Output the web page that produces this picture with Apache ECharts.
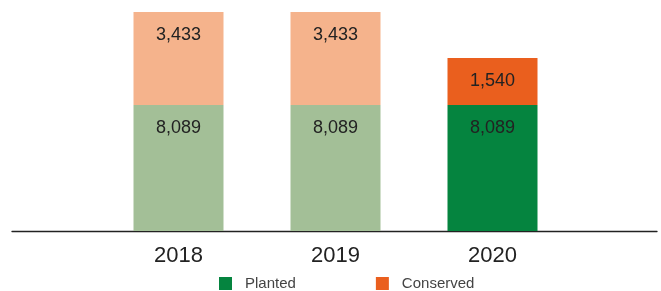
<!DOCTYPE html>
<html>
<head>
	<meta charset="utf-8">
	<title>Planted and Conserved</title>
	<script src="https://cdn.jsdelivr.net/npm/echarts@6/dist/echarts.min.js"></script>
	<style>
		body { margin: 0; background: #fff; }
	</style>
</head>
<body>
	<div id="main" style="width: 661px;height:291px;"></div>
	<script type="text/javascript">
	var years = ['2018', '2019', '2020'];

	// values printed on the bars
	var planted = [8089, 8089, 8089];
	var conserved = [3433, 3433, 1540];

	// the source does not draw its segments to scale,
	// so these are the heights
	var plantedHeight = [8089, 8089, 8089];
	var conservedHeight = [5970, 5970, 3020];

	var plantedColor = '#05843f', plantedFaded = '#a3bf97';
	var conservedColor = '#ea5f1e', conservedFaded = '#f5b38c';

	function items(heights, labels, full, faded) {
		return heights.map(function (h, i) {
			return {
				value: h,
				label: { formatter: labels[i].toLocaleString('en-US') },
				itemStyle: { color: i === heights.length - 1 ? full : faded }
			};
		});
	}

	var myChart = echarts.init(document.getElementById('main'));

	var barLabel = {
		show: true,
		position: 'insideTop',
		distance: 14,
		color: '#222',
		fontSize: 18,
		fontFamily: 'Liberation Sans'
	};

	var option = {
		animation: false,
		textStyle: { fontFamily: 'Liberation Sans' },
		legend: {
			top: 271,
			left: 214,
			padding: 5,
			icon: 'rect',
			itemWidth: 13,
			itemHeight: 13,
			itemGap: 80,
			textStyle: { color: '#444', fontSize: 15, padding: [0, 0, 0, 8] },
			data: ['Planted', 'Conserved']
		},
		grid: [
			{ left: 100, right: 90, top: 12, bottom: 60 },
			{ left: 12, right: 4, top: 12, bottom: 60 }
		],
		xAxis: [{
			type: 'category',
			gridIndex: 0,
			data: years,
			axisLine: { show: false },
			axisTick: { show: false },
			axisLabel: { color: '#222', fontSize: 22, margin: 14 }
		}, {
			type: 'category',
			gridIndex: 1,
			data: [''],
			axisLine: { show: true, lineStyle: { color: '#222', width: 1.3 } },
			axisTick: { show: false },
			axisLabel: { show: false }
		}],
		yAxis: [{
			type: 'value',
			gridIndex: 0,
			min: 0,
			max: 14059,
			show: false
		}, {
			type: 'value',
			gridIndex: 1,
			show: false
		}],
		series: [{
			name: 'Planted',
			type: 'bar',
			stack: 'total',
			barWidth: 90,
			color: plantedColor,
			label: barLabel,
			data: items(plantedHeight, planted, plantedColor, plantedFaded)
		}, {
			name: 'Conserved',
			type: 'bar',
			stack: 'total',
			barWidth: 90,
			color: conservedColor,
			label: barLabel,
			data: items(conservedHeight, conserved, conservedColor, conservedFaded)
		}]
	};

	myChart.setOption(option);
	</script>
</body>
</html>
